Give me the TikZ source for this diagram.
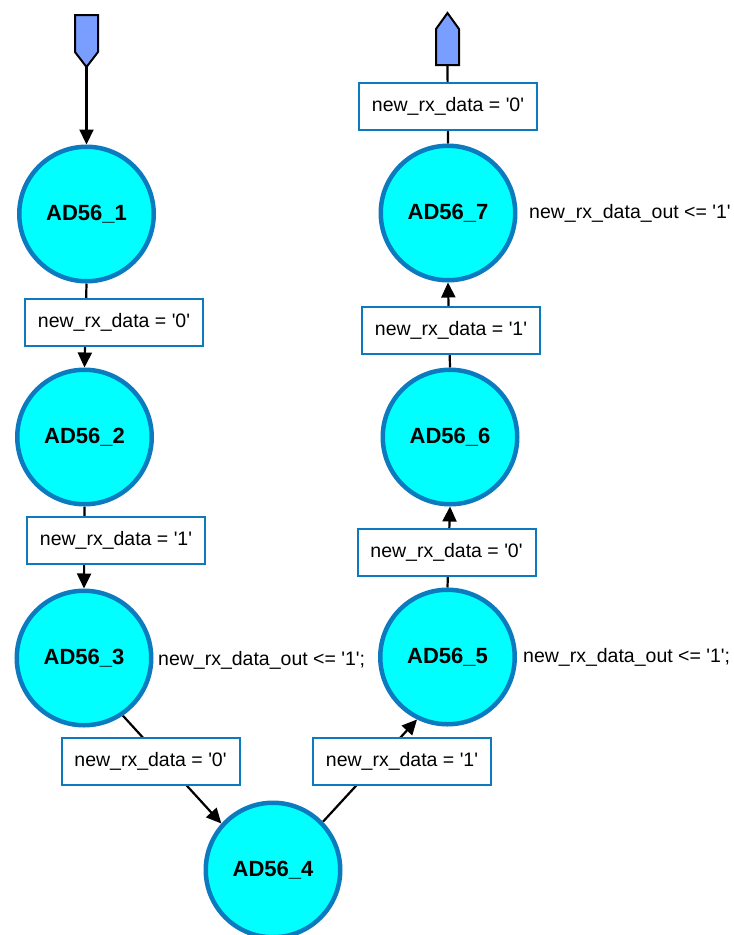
\documentclass[tikz,border=0pt]{standalone}
\usepackage{fontspec}
\setmainfont{Liberation Sans}
\usetikzlibrary{arrows.meta,backgrounds}
\definecolor{ringblue}{RGB}{12,122,190}
\definecolor{statefill}{RGB}{0,255,255}
\definecolor{portblue}{RGB}{122,158,255}
\newcommand{\sq}{\textquotesingle}

\begin{document}
\begin{tikzpicture}[x=1pt,y=-1pt,
  state/.style={circle, draw=ringblue, line width=4.5pt, fill=statefill,
    minimum size=134.5pt, inner sep=0pt,
    font=\fontsize{22}{26}\selectfont\bfseries},
  cond/.style={rectangle, draw=ringblue, line width=2pt, fill=white,
    minimum width=178pt, minimum height=47pt, inner sep=0pt,
    font=\fontsize{19.5}{23}\selectfont},
  action/.style={anchor=west, inner sep=0pt,
    font=\fontsize{19.5}{23}\selectfont},
  port/.style={draw=black, line width=2pt, fill=portblue, line join=miter},
  link/.style={draw=black, line width=2.2pt},
  arr/.style={link, -{Triangle[length=15pt,width=14pt]}}
]
\useasboundingbox (0,0) rectangle (734,935);

% entry and exit ports
\draw[port] (75,15) -- (98,15) -- (98,52) -- (86.5,67) -- (75,52) -- cycle;
\coordinate (inport) at (86.5,67);
\draw[port] (447.5,13) -- (459,29) -- (459,65) -- (436,65) -- (436,29) -- cycle;
\coordinate (outport) at (447.5,65);

% states
\node[state] (s1) at (86.5,214) {AD56\_1};
\node[state] (s2) at (84.5,437) {AD56\_2};
\node[state] (s3) at (84,658) {AD56\_3};
\node[state] (s4) at (273,870) {AD56\_4};
\node[state] (s5) at (447.5,657) {AD56\_5};
\node[state] (s6) at (450,437) {AD56\_6};
\node[state] (s7) at (448,213) {AD56\_7};

% transition conditions
\node[cond] (c12) at (114,322) {new\_rx\_data = \sq0\sq};
\node[cond] (c23) at (116,540) {new\_rx\_data = \sq1\sq};
\node[cond] (c34) at (150.5,761) {new\_rx\_data = \sq0\sq};
\node[cond] (c45) at (402,761) {new\_rx\_data = \sq1\sq};
\node[cond] (c56) at (446.5,552) {new\_rx\_data = \sq0\sq};
\node[cond] (c67) at (451,330) {new\_rx\_data = \sq1\sq};
\node[cond] (c7o) at (448,106.5) {new\_rx\_data = \sq0\sq};

% state actions
\node[action] (a3) at (158,660) {new\_rx\_data\_out <= \sq1\sq;};
\node[action] (a5) at (523,657) {new\_rx\_data\_out <= \sq1\sq;};
\node[action] (a7) at (529,213) {new\_rx\_data\_out <= \sq1\sq};

% transitions
\begin{pgfonlayer}{background}
  \draw[arr] (inport) -- (s1.north);
  \draw[arr] (s1.south) -- (s2.north);
  \draw[arr] (s2.south) -- (s3.north);
  \draw[arr] (s3.-56) -- (s4.138);
  \draw[arr] (s4.44) -- (s5.-116);
  \draw[arr] (s5.north) -- (s6.south);
  \draw[arr] (s6.north) -- (s7.south);
  \draw[link] (s7.north) -- (outport);
\end{pgfonlayer}
\end{tikzpicture}
\end{document}
